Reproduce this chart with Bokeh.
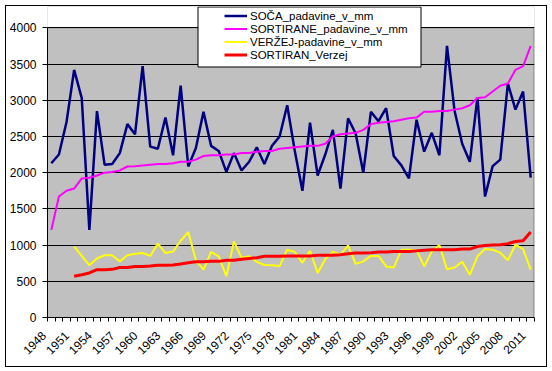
import math
from bokeh.plotting import figure
from bokeh.models import (Range1d, FixedTicker, BoxAnnotation, Legend, LegendItem,
                          CustomJSTickFormatter)
from bokeh.embed import file_html
from bokeh.resources import INLINE

years = [1948, 1949, 1950, 1951, 1952, 1953, 1954, 1955, 1956, 1957,
         1958, 1959, 1960, 1961, 1962, 1963, 1964, 1965, 1966, 1967,
         1968, 1969, 1970, 1971, 1972, 1973, 1974, 1975, 1976, 1977,
         1978, 1979, 1980, 1981, 1982, 1983, 1984, 1985, 1986, 1987,
         1988, 1989, 1990, 1991, 1992, 1993, 1994, 1995, 1996, 1997,
         1998, 1999, 2000, 2001, 2002, 2003, 2004, 2005, 2006, 2007,
         2008, 2009, 2010, 2011]

soca = [2130, 2250, 2700, 3420, 3030, 1210, 2850, 2110, 2120, 2270,
        2670, 2530, 3470, 2360, 2330, 2760, 2240, 3200, 2085, 2340,
        2840, 2370, 2300, 2010, 2270, 2030, 2150, 2350, 2120, 2370,
        2500, 2930, 2300, 1750, 2690, 1960, 2250, 2590, 1780, 2750,
        2540, 2000, 2840, 2710, 2890, 2230, 2100, 1920, 2730, 2290,
        2550, 2240, 3750, 2850, 2400, 2150, 3040, 1670, 2090, 2180,
        3230, 2870, 3120, 1930]

soca_sorted = [1210, 1670, 1750, 1780, 1920, 1930, 1960, 2000, 2010, 2030,
               2085, 2090, 2100, 2110, 2120, 2120, 2130, 2150, 2150, 2180,
               2230, 2240, 2240, 2250, 2250, 2270, 2270, 2290, 2300, 2300,
               2330, 2340, 2350, 2360, 2370, 2370, 2400, 2500, 2530, 2540,
               2550, 2590, 2670, 2690, 2700, 2710, 2730, 2750, 2760, 2840,
               2840, 2850, 2850, 2870, 2890, 2930, 3030, 3040, 3120, 3200,
               3230, 3420, 3470, 3750]

verzej_years = years[3:]

verzej = [980, 850, 720, 815, 860, 860, 775, 860, 880, 890,
          850, 1020, 890, 910, 1060, 1180, 790, 660, 905, 845,
          570, 1050, 825, 845, 770, 725, 720, 710, 935, 905,
          755, 920, 615, 805, 910, 865, 995, 740, 775, 850,
          850, 705, 690, 935, 935, 930, 705, 910, 1000, 665,
          690, 770, 590, 845, 945, 935, 895, 790, 1005, 945,
          660]

verzej_sorted = [570, 590, 615, 660, 660, 665, 690, 690, 705, 705,
                 710, 720, 720, 725, 740, 755, 770, 770, 775, 775,
                 790, 790, 805, 815, 825, 845, 845, 845, 850, 850,
                 850, 850, 860, 860, 860, 865, 880, 890, 890, 895,
                 905, 905, 910, 910, 910, 920, 930, 935, 935, 935,
                 935, 945, 945, 980, 995, 1000, 1005, 1020, 1050, 1060,
                 1180]

tick_years = [1948, 1951, 1954, 1957, 1960, 1963, 1966, 1969, 1972, 1975, 1978,
              1981, 1984, 1987, 1990, 1993, 1996, 1999, 2002, 2005, 2008, 2011]
tick_labels = ["1948", "1951", "1954", "1957", "1960", "1963", "1966", "1969",
               "1972", "1975", "1978", "1981", "1984", "1987", "1990", "1993",
               "1996", "1999", "2002", "2005", "2008", "2011"]
y_ticks = [0, 500, 1000, 1500, 2000, 2500, 3000, 3500, 4000]

series_names = ["SOČA_padavine_v_mm", "SORTIRANE_padavine_v_mm",
                "VERŽEJ-padavine_v_mm", "SORTIRAN_Verzej"]

W, H = 542, 362
FONT = "Liberation Sans"
Y_MAX = 4000
FRAME_H = 311          # frame spans the full height above the x axis
TOP_GAP = 21.3         # white band above the 4000 line (pixels)

p = figure(width=W, height=H, output_backend="svg", toolbar_location=None,
           x_range=Range1d(years[0] - 0.5, years[-1] + 0.5),
           y_range=Range1d(0, Y_MAX * FRAME_H / (FRAME_H - TOP_GAP)),
           min_border_left=40, min_border_right=14, min_border_top=0,
           min_border_bottom=H - FRAME_H)
p.margin = (5, 0, 0, 5)
p.styles = {"border": "1px solid black", "box-sizing": "border-box"}

p.background_fill_color = "#C0C0C0"
p.border_fill_color = None
p.outline_line_color = None

# white band above the plot area (drawn beneath grid and axes)
p.add_layout(BoxAnnotation(bottom=Y_MAX, fill_color="white", fill_alpha=1,
                           line_color=None, level="image"))
# gray plot-area border
p.add_layout(BoxAnnotation(bottom=0, top=Y_MAX, right=years[-1] + 0.43,
                           fill_color=None, line_color="#808080", line_alpha=1,
                           line_width=1, level="image"))

# x axis: tick marks at category boundaries, labels at categories
boundaries = [years[0] - 0.5 + k for k in range(len(years) + 1)]
p.xaxis.ticker = FixedTicker(ticks=tick_years, minor_ticks=boundaries)
p.xaxis.formatter = CustomJSTickFormatter(args=dict(pos=tick_years, labels=tick_labels), code="""
for (let i = 0; i < pos.length; i++) { if (Math.abs(pos[i] - tick) < 1e-6) return labels[i] + "\\u00a0\\u00a0\\u00a0"; }
return "";
""")
p.xaxis.major_tick_line_color = None
p.xaxis.minor_tick_line_color = "black"
p.xaxis.minor_tick_in = 0
p.xaxis.minor_tick_out = 4
p.xaxis.major_label_orientation = math.pi / 4
p.xaxis.major_label_standoff = 3
p.xaxis.axis_line_color = "black"

p.yaxis.ticker = FixedTicker(ticks=y_ticks)
p.yaxis.bounds = (0, Y_MAX)
p.yaxis.minor_tick_line_color = None
p.yaxis.major_tick_in = 0
p.yaxis.major_tick_out = 5
p.yaxis.major_label_standoff = 6
p.yaxis.axis_line_color = "black"

for ax in (p.xaxis, p.yaxis):
    ax.major_label_text_font = FONT
    ax.major_label_text_font_size = "12px"
    ax.major_label_text_color = "black"

p.xgrid.grid_line_color = None
p.ygrid.ticker = FixedTicker(ticks=y_ticks)
p.ygrid.grid_line_color = "black"
p.ygrid.grid_line_width = 1

r1 = p.line(years, soca, line_color="#000080", line_width=2.5)
r2 = p.line(years, soca_sorted, line_color="#FF00FF", line_width=2)
r3 = p.line(verzej_years, verzej, line_color="#FFFF00", line_width=2)
r4 = p.line(verzej_years, verzej_sorted, line_color="#FF0000", line_width=3)

# legend box
p.add_layout(BoxAnnotation(left=190.5, right=413.5, top=-0.5, bottom=59.5,
                           left_units="canvas", right_units="canvas",
                           top_units="canvas", bottom_units="canvas",
                           fill_color="white", fill_alpha=1, line_color="black",
                           line_width=1, line_alpha=1))

legend = Legend(items=[LegendItem(label=n, renderers=[r]) for n, r in
                       zip(series_names, [r1, r2, r3, r4])],
                location=(177, 256), padding=0, spacing=0, margin=0,
                glyph_width=23, glyph_height=13, label_height=13,
                label_standoff=3, border_line_color=None,
                background_fill_alpha=0,
                label_text_font=FONT, label_text_font_size="11.5px",
                label_text_color="black")
p.add_layout(legend)

open("out.html", "w").write(file_html(p, INLINE))
